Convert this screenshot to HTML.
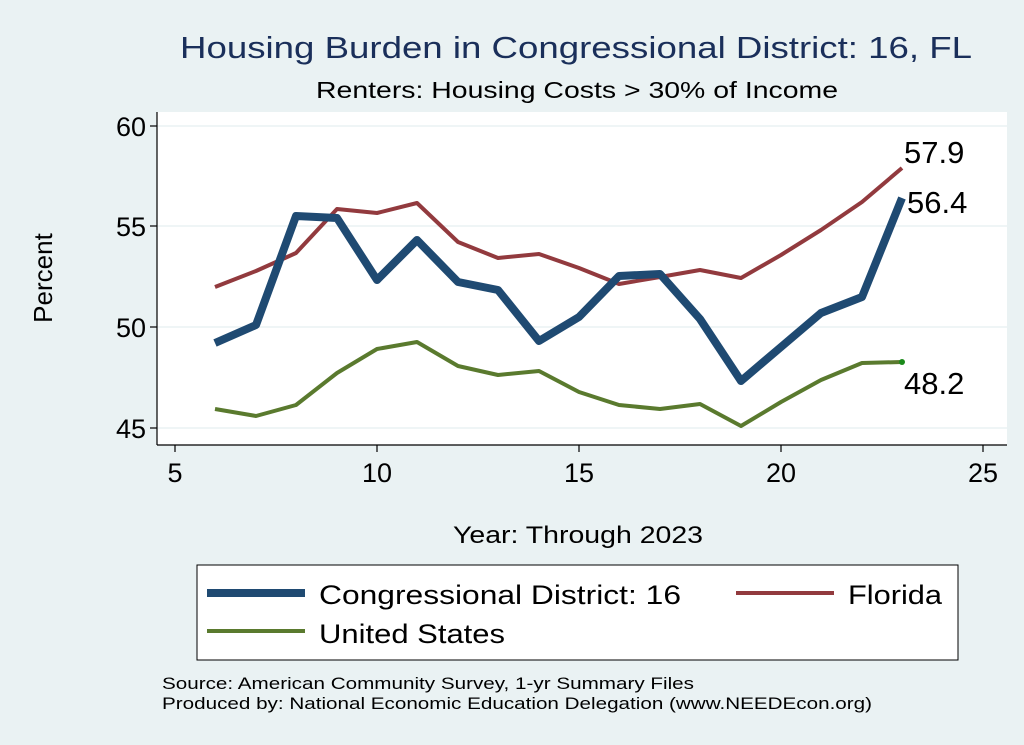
<!DOCTYPE html>
<html><head><meta charset="utf-8"><style>
body{margin:0;background:#eaf2f3;}
svg{display:block;font-family:"Liberation Sans",Arial,sans-serif;}
</style></head><body>
<svg width="1024" height="745" viewBox="0 0 1024 745" xmlns="http://www.w3.org/2000/svg" xml:space="preserve">
<rect width="1024" height="745" fill="#eaf2f3"/>
<text x="180" y="58" font-size="31" fill="#1a2f5a" textLength="792" lengthAdjust="spacingAndGlyphs">Housing Burden in Congressional District:  16, FL</text>
<text x="316" y="98" font-size="23" fill="#000" textLength="522" lengthAdjust="spacingAndGlyphs">Renters: Housing Costs &gt; 30% of Income</text>
<rect x="157" y="112" width="850" height="333" fill="#fff"/>
<g stroke="#eaf2f3" stroke-width="1.5">
<line x1="157" x2="1007" y1="126" y2="126"/><line x1="157" x2="1007" y1="226" y2="226"/>
<line x1="157" x2="1007" y1="327" y2="327"/><line x1="157" x2="1007" y1="428" y2="428"/>
</g>
<g stroke="#000" stroke-width="1.2">
<line x1="157" y1="112" x2="157" y2="445"/><line x1="157" y1="445" x2="1007" y2="445"/>
<line x1="150" x2="157" y1="126" y2="126"/><line x1="150" x2="157" y1="226" y2="226"/>
<line x1="150" x2="157" y1="327" y2="327"/><line x1="150" x2="157" y1="428" y2="428"/>
<line x1="175" x2="175" y1="445" y2="452"/><line x1="377" x2="377" y1="445" y2="452"/>
<line x1="579" x2="579" y1="445" y2="452"/><line x1="781" x2="781" y1="445" y2="452"/>
<line x1="983" x2="983" y1="445" y2="452"/>
</g>
<g font-size="27" text-anchor="end"><text x="146" y="136">60</text><text x="146" y="236">55</text><text x="146" y="337">50</text><text x="146" y="438">45</text></g>
<g font-size="27" text-anchor="middle"><text x="175" y="482">5</text><text x="377" y="482">10</text><text x="579" y="482">15</text><text x="781" y="482">20</text><text x="983" y="482">25</text></g>
<text x="52" y="278" font-size="26" text-anchor="middle" transform="rotate(-90 52 278)">Percent</text>
<text x="453" y="543" font-size="24" textLength="250" lengthAdjust="spacingAndGlyphs">Year: Through 2023</text>
<polyline fill="none" stroke="#5a7a2e" stroke-width="4" stroke-linejoin="round" points="215,409 256,416 296,405 337,373 377,349 417,342 458,366 498,375 539,371 579,392 619,405 660,409 700,404 741,426 781,402 821,380 862,363 902,362"/>
<circle cx="902" cy="362" r="3" fill="#1a8a1a"/>
<polyline fill="none" stroke="#923a3e" stroke-width="4" stroke-linejoin="round" points="215,287 256,271 296,253 337,209 377,213 417,203 458,242 498,258 539,254 579,268 619,284 660,277 700,270 741,278 781,255 821,230 862,202 902,168"/>
<polyline fill="none" stroke="#1f4a72" stroke-width="8" stroke-linejoin="round" points="215,343 256,325 296,216 337,218 377,280 417,240 458,282 498,290 539,341 579,317 619,276 660,274 700,319 741,381 781,347 821,313 862,297 902,198"/>
<g font-size="31"><text x="904" y="163">57.9</text><text x="907" y="213">56.4</text><text x="904" y="394">48.2</text></g>
<rect x="197" y="565" width="761" height="95" fill="#fff" stroke="#000" stroke-width="1"/>
<line x1="207" x2="305" y1="593" y2="593" stroke="#1f4a72" stroke-width="8"/>
<text x="319" y="604" font-size="27" textLength="362" lengthAdjust="spacingAndGlyphs">Congressional District:  16</text>
<line x1="736" x2="834" y1="593" y2="593" stroke="#923a3e" stroke-width="4"/>
<text x="848" y="604" font-size="27" textLength="94" lengthAdjust="spacingAndGlyphs">Florida</text>
<line x1="207" x2="305" y1="631" y2="631" stroke="#5a7a2e" stroke-width="4"/>
<text x="319" y="643" font-size="27" textLength="186" lengthAdjust="spacingAndGlyphs">United States</text>
<text x="162" y="689" font-size="17" textLength="532" lengthAdjust="spacingAndGlyphs">Source: American Community Survey, 1-yr Summary Files</text>
<text x="162" y="709" font-size="17" textLength="710" lengthAdjust="spacingAndGlyphs">Produced by: National Economic Education Delegation (www.NEEDEcon.org)</text>
</svg>
</body></html>
